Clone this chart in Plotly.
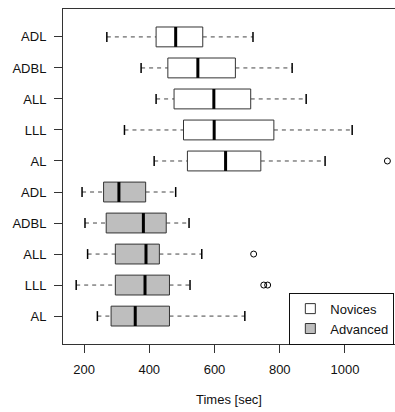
import plotly.graph_objects as go

# ---- data ----
conditions = ["ADL", "ADBL", "ALL", "LLL", "AL"]          # top to bottom within each group
groups = ["Novices", "Advanced"]

nov_low = [270, 375, 421, 324, 415]
nov_q1 = [421, 457, 476, 505, 517]
nov_med = [481, 549, 598, 599, 634]
nov_q3 = [564, 664, 711, 782, 742]
nov_high = [718, 838, 881, 1022, 939]
nov_out = [[], [], [], [], [1130]]

adv_low = [194, 203, 211, 176, 241]
adv_q1 = [260, 268, 296, 296, 283]
adv_med = [307, 382, 390, 387, 357]
adv_q3 = [389, 452, 431, 462, 462]
adv_high = [481, 522, 561, 525, 693]
adv_out = [[], [], [720], [751, 763], []]

x_ticks = [200, 400, 600, 800, 1000]

# ---- styling ----
FONT = "Liberation Sans, Arial, Helvetica, sans-serif"
fills = {"Novices": "#FFFFFF", "Advanced": "#BEBEBE"}
H = 0.32   # half box height (axis units)
C = 0.16   # half staple length

series = {
    "Novices": (nov_low, nov_q1, nov_med, nov_q3, nov_high, nov_out, 10),
    "Advanced": (adv_low, adv_q1, adv_med, adv_q3, adv_high, adv_out, 5),
}

fig = go.Figure()
tickvals, ticktext = [], []

for g in groups:
    low, q1, med, q3, high, out, top = series[g]
    wx, wy, bx, by, mx, my, cx, cy, ox, oy = [], [], [], [], [], [], [], [], [], []
    for i, cond in enumerate(conditions):
        p = top - i
        tickvals.append(p)
        ticktext.append(cond)
        wx += [low[i], q1[i], None, q3[i], high[i], None]
        wy += [p, p, None, p, p, None]
        bx += [q1[i], q3[i], q3[i], q1[i], q1[i], None]
        by += [p - H, p - H, p + H, p + H, p - H, None]
        mx += [med[i], med[i], None]
        my += [p - H, p + H, None]
        cx += [low[i], low[i], None, high[i], high[i], None]
        cy += [p - C, p + C, None, p - C, p + C, None]
        for v in out[i]:
            ox.append(v)
            oy.append(p)
    fig.add_trace(go.Scatter(x=wx, y=wy, mode="lines", showlegend=False, hoverinfo="skip",
                             line=dict(color="#444444", width=1, dash="4px,4px")))
    fig.add_trace(go.Scatter(x=bx, y=by, mode="lines", fill="toself", fillcolor=fills[g],
                             showlegend=False, hoverinfo="skip",
                             line=dict(color="#333333", width=1)))
    fig.add_trace(go.Scatter(x=mx, y=my, mode="lines", showlegend=False, hoverinfo="skip",
                             line=dict(color="#000000", width=3)))
    fig.add_trace(go.Scatter(x=cx, y=cy, mode="lines", showlegend=False, hoverinfo="skip",
                             line=dict(color="#000000", width=1.5)))
    if ox:
        fig.add_trace(go.Scatter(x=ox, y=oy, mode="markers", showlegend=False, cliponaxis=False,
                                 hoverinfo="skip",
                                 marker=dict(symbol="circle-open", size=6, color="#000000",
                                             line=dict(width=1))))

for g in groups:
    fig.add_trace(go.Scatter(x=[None], y=[None], mode="markers", name=g,
                             marker=dict(symbol="square", size=10, color=fills[g],
                                         line=dict(color="#333333", width=1))))

fig.update_layout(
    width=395, height=412,
    margin=dict(l=63, r=0, t=9, b=68),
    paper_bgcolor="white", plot_bgcolor="white",
    font=dict(family=FONT, size=13, color="#111111"),
    hovermode=False,
    legend=dict(x=0.998, xanchor="right", y=-0.002, yanchor="bottom",
                bordercolor="#111111", borderwidth=1, bgcolor="white",
                font=dict(size=13), itemwidth=30, tracegroupgap=0),
    xaxis=dict(range=[135.6, 1153.3], tickvals=x_ticks, ticks="outside", ticklen=8,
               tickcolor="#333333", showgrid=False, zeroline=False,
               showline=True, linecolor="#333333", linewidth=1, mirror=True,
               ticklabelstandoff=5,
               title=dict(text="Times [sec]", font=dict(size=13), standoff=19)),
    yaxis=dict(range=[0.1, 10.9], tickvals=tickvals, ticktext=ticktext, ticks="outside",
               ticklen=8, tickcolor="#333333", showgrid=False, zeroline=False,
               showline=True, linecolor="#333333", linewidth=1, mirror=False,
               ticklabelstandoff=5),
)

# remove the default page margin so the figure fills the 395x412 window exactly
fig.write_html("out.html", config={"displayModeBar": False},
               post_script="document.body.style.margin='0';document.body.style.overflow='hidden';")
